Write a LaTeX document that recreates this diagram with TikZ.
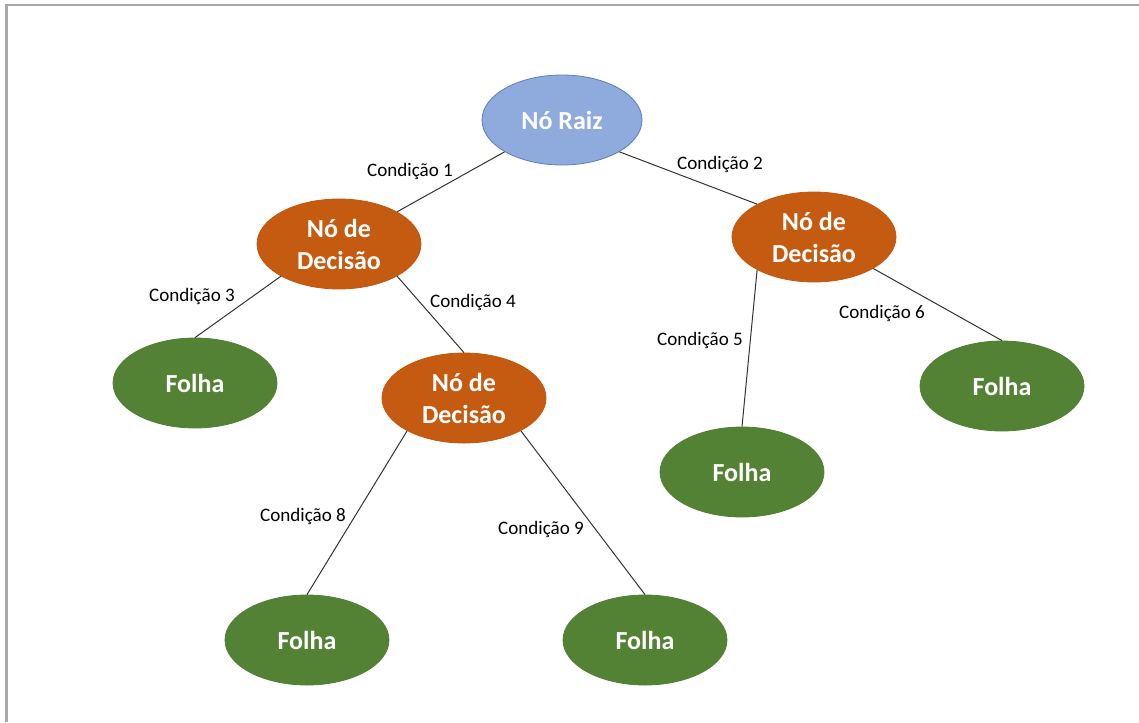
\documentclass[tikz,border=0pt]{standalone}
\usepackage{fontspec}
\setmainfont{Carlito}
\usetikzlibrary{shapes.geometric}

\definecolor{rootfill}{HTML}{8FAADC}
\definecolor{rootline}{HTML}{5B7DBE}
\definecolor{decfill}{HTML}{C55A11}
\definecolor{decline}{HTML}{C0580F}
\definecolor{leaffill}{HTML}{548235}
\definecolor{leafline}{HTML}{517F33}
\definecolor{framegray}{HTML}{A8A8A8}
\definecolor{edgegray}{HTML}{333333}

\begin{document}
\begin{tikzpicture}[x=0.75pt,y=-0.75pt,
  blob/.style={ellipse, inner sep=0pt, align=center, text=white,
    font=\bfseries\fontsize{19.5}{24}\selectfont,
    minimum width=123pt, minimum height=67.5pt, line width=0.6pt},
  rootnode/.style={blob, fill=rootfill, draw=rootline, minimum width=120pt},
  decnode/.style={blob, fill=decfill, draw=decline},
  leafnode/.style={blob, fill=leaffill, draw=leafline},
  edge/.style={draw=edgegray, line width=0.75pt},
  lbl/.style={inner sep=0pt, text=black, font=\fontsize{14.3}{17}\selectfont}]

\useasboundingbox (0,0) rectangle (1139,722);

% page frame
\draw[framegray, line width=1.7pt] (6.5,722) -- (6.5,5.3) -- (1139,5.3);

% tree nodes
\node[rootnode] (r)  at (562,120) {Nó Raiz};
\node[decnode]  (d1) at (339,244) {Nó de\\Decisão};
\node[decnode]  (d2) at (814,237) {Nó de\\Decisão};
\node[decnode]  (d3) at (464,398) {Nó de\\Decisão};
\node[leafnode] (f1) at (195,383) {Folha};
\node[leafnode] (f2) at (742,472) {Folha};
\node[leafnode] (f3) at (1002,386) {Folha};
\node[leafnode] (f4) at (307,640) {Folha};
\node[leafnode] (f5) at (645,640) {Folha};

% branches
\draw[edge] (r.209)  -- (d1.29);
\draw[edge] (r.331)  -- (d2.150);
\draw[edge] (d1.209) -- (f1.north);
\draw[edge] (d1.331) -- (d3.north);
\draw[edge] (d2.210) -- (f2.north);
\draw[edge] (d2.332) -- (f3.north);
\draw[edge] (d3.210) -- (f4.north);
\draw[edge] (d3.330) -- (f5.north);

% branch conditions
\node[lbl] (c1) at (410,171) {Condição 1};
\node[lbl] (c2) at (720,164) {Condição 2};
\node[lbl] (c3) at (192,296) {Condição 3};
\node[lbl] (c4) at (473,302) {Condição 4};
\node[lbl] (c5) at (700,340) {Condição 5};
\node[lbl] (c6) at (882,313) {Condição 6};
\node[lbl] (c8) at (303,516) {Condição 8};
\node[lbl] (c9) at (541,529) {Condição 9};

\end{tikzpicture}
\end{document}
